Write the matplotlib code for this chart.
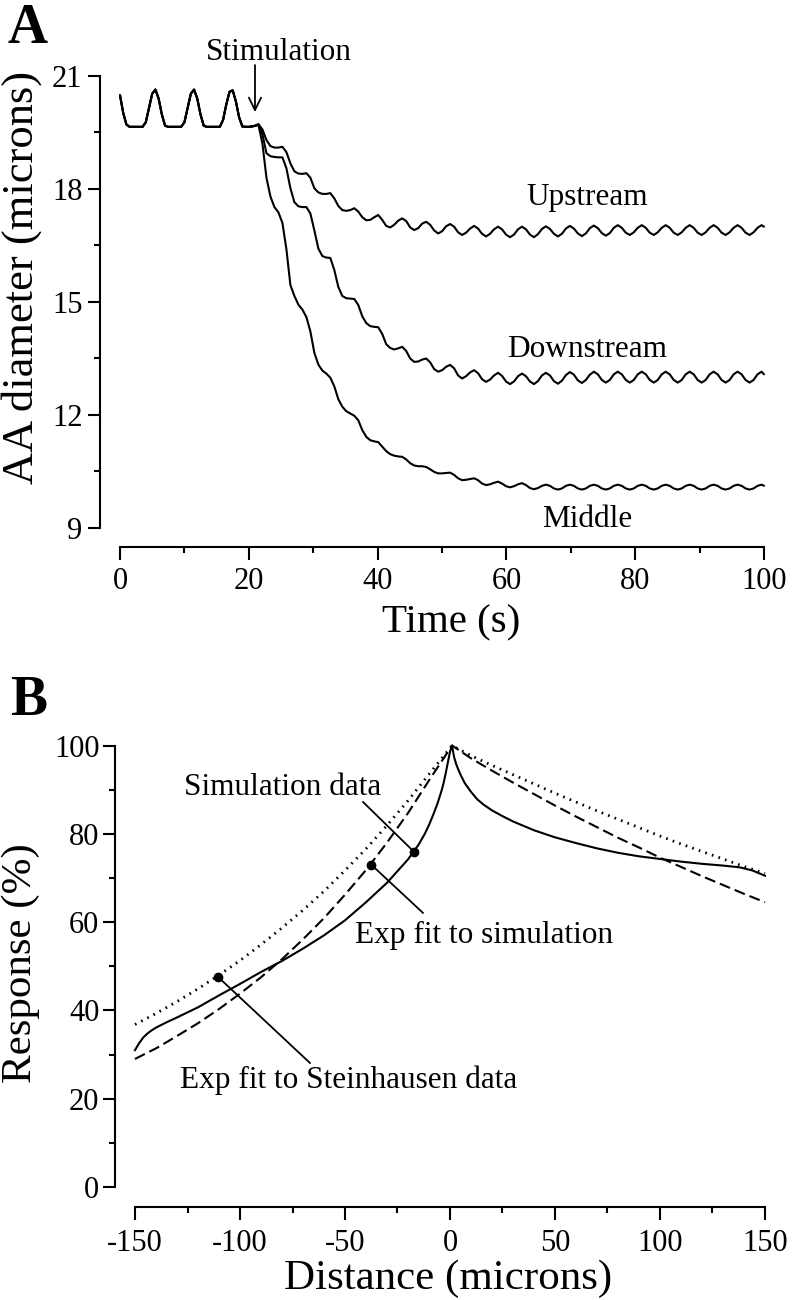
import matplotlib
matplotlib.use("Agg")
import matplotlib.pyplot as plt
from matplotlib.ticker import MultipleLocator

plt.rcParams['font.family'] = ['Liberation Serif', 'DejaVu Serif']
plt.rcParams['axes.unicode_minus'] = False

# ---------------- Panel A data ----------------
# shared pre-stimulation segment (s, microns)
pre_t = [0.0, 0.5, 1.0, 1.5, 2.0, 2.5, 3.0, 3.5, 4.0, 4.5, 5.0, 5.5, 6.0, 6.5, 7.0, 7.5,
         8.0, 8.5, 9.0, 9.5, 10.0, 10.5, 11.0, 11.5, 12.0, 12.5, 13.0, 13.5, 14.0, 14.5,
         15.0, 15.5, 16.0, 16.5, 17.0, 17.5, 18.0, 18.5, 19.0, 19.5, 20.0, 20.5, 21.0]
pre_v = [20.49, 20.02, 19.71, 19.65, 19.65, 19.65, 19.65, 19.65, 19.77, 20.15, 20.53, 20.64,
         20.40, 19.98, 19.68, 19.65, 19.65, 19.65, 19.65, 19.65, 19.77, 20.15, 20.53, 20.64,
         20.40, 19.98, 19.68, 19.65, 19.65, 19.65, 19.65, 19.65, 19.83, 20.24, 20.58, 20.62,
         20.32, 19.90, 19.66, 19.65, 19.65, 19.66, 19.68]

post_t = [21.50, 22.12, 22.74, 23.36, 23.98, 24.60, 25.22, 25.84, 26.46, 27.08, 27.70, 28.32,
          28.94, 29.56, 30.18, 30.80, 31.42, 32.04, 32.66, 33.28, 33.90, 34.52, 35.14, 35.76,
          36.38, 37.00, 37.62, 38.24, 38.86, 39.48, 40.10, 40.72, 41.34, 41.96, 42.58, 43.20,
          43.82, 44.44, 45.06, 45.68, 46.30, 46.92, 47.54, 48.16, 48.78, 49.40, 50.02, 50.64,
          51.26, 51.88, 52.50, 53.12, 53.74, 54.36, 54.98, 55.60, 56.22, 56.84, 57.46, 58.08,
          58.70, 59.32, 59.94, 60.56, 61.18, 61.80, 62.42, 63.04, 63.66, 64.28, 64.90, 65.52,
          66.14, 66.76, 67.38, 68.00, 68.62, 69.24, 69.86, 70.48, 71.10, 71.72, 72.34, 72.96,
          73.58, 74.20, 74.82, 75.44, 76.06, 76.68, 77.30, 77.92, 78.54, 79.16, 79.78, 80.40,
          81.02, 81.64, 82.26, 82.88, 83.50, 84.12, 84.74, 85.36, 85.98, 86.60, 87.22, 87.84,
          88.46, 89.08, 89.70, 90.32, 90.94, 91.56, 92.18, 92.80, 93.42, 94.04, 94.66, 95.28,
          95.90, 96.52, 97.14, 97.76, 98.38, 99.00, 99.62, 100.0]

upstream_v = [19.72, 19.58, 19.30, 19.14, 19.10, 19.10,
              19.12, 18.98, 18.68, 18.47, 18.41, 18.40,
              18.42, 18.30, 18.02, 17.91, 17.87, 17.87,
              17.89, 17.75, 17.55, 17.44, 17.42, 17.44,
              17.49, 17.40, 17.25, 17.17, 17.18, 17.25,
              17.31, 17.18, 17.02, 16.98, 17.05, 17.16,
              17.22, 17.15, 16.98, 16.91, 16.96, 17.08,
              17.13, 17.05, 16.90, 16.82, 16.88, 17.01,
              17.07, 17.00, 16.85, 16.78, 16.84, 16.95,
              17.02, 16.95, 16.81, 16.74, 16.81, 16.93,
              17.00, 16.93, 16.79, 16.72, 16.79, 16.93,
              17.00, 16.93, 16.79, 16.72, 16.80, 16.94,
              17.01, 16.94, 16.81, 16.74, 16.81, 16.95,
              17.02, 16.95, 16.82, 16.75, 16.82, 16.96,
              17.03, 16.96, 16.83, 16.76, 16.83, 16.97,
              17.04, 16.97, 16.84, 16.78, 16.85, 16.97,
              17.04, 16.97, 16.84, 16.78, 16.85, 16.97,
              17.04, 16.97, 16.84, 16.78, 16.85, 16.97,
              17.04, 16.97, 16.84, 16.78, 16.85, 16.97,
              17.04, 16.97, 16.84, 16.78, 16.85, 16.97,
              17.04, 16.97, 16.84, 16.78, 16.85, 16.97,
              17.04, 17.00]

downstream_v = [19.72, 19.45, 18.95, 18.87, 18.85, 18.84,
                18.84, 18.55, 18.02, 17.65, 17.54, 17.52,
                17.52, 17.35, 16.90, 16.42, 16.22, 16.18,
                16.17, 15.85, 15.40, 15.16, 15.10, 15.09,
                15.08, 14.92, 14.62, 14.44, 14.36, 14.34,
                14.33, 14.15, 13.88, 13.78, 13.74, 13.77,
                13.81, 13.70, 13.50, 13.41, 13.42, 13.47,
                13.50, 13.40, 13.22, 13.15, 13.19, 13.28,
                13.33, 13.24, 13.05, 12.97, 13.03, 13.13,
                13.19, 13.11, 12.95, 12.88, 12.94, 13.05,
                13.12, 13.04, 12.89, 12.82, 12.89, 13.03,
                13.10, 13.03, 12.89, 12.82, 12.90, 13.05,
                13.12, 13.05, 12.90, 12.83, 12.91, 13.06,
                13.14, 13.07, 12.92, 12.85, 12.93, 13.07,
                13.15, 13.08, 12.93, 12.86, 12.93, 13.08,
                13.15, 13.08, 12.93, 12.86, 12.93, 13.08,
                13.15, 13.08, 12.93, 12.86, 12.93, 13.08,
                13.15, 13.08, 12.93, 12.86, 12.93, 13.08,
                13.15, 13.08, 12.93, 12.86, 12.93, 13.08,
                13.15, 13.08, 12.93, 12.86, 12.93, 13.08,
                13.15, 13.08, 12.93, 12.86, 12.93, 13.08,
                13.15, 13.08]

middle_v = [19.70, 19.20, 18.30, 17.80, 17.52, 17.38,
            17.10, 16.40, 15.45, 15.16, 14.93, 14.80,
            14.60, 14.22, 13.65, 13.34, 13.18, 13.10,
            12.99, 12.76, 12.42, 12.22, 12.10, 12.04,
            11.98, 11.86, 11.60, 11.42, 11.33, 11.30,
            11.28, 11.16, 11.04, 10.96, 10.92, 10.90,
            10.89, 10.82, 10.72, 10.66, 10.64, 10.64,
            10.62, 10.56, 10.49, 10.45, 10.45, 10.46,
            10.47, 10.41, 10.32, 10.27, 10.28, 10.30,
            10.32, 10.27, 10.18, 10.14, 10.16, 10.20,
            10.23, 10.18, 10.11, 10.08, 10.11, 10.16,
            10.19, 10.14, 10.06, 10.03, 10.06, 10.12,
            10.15, 10.12, 10.05, 10.02, 10.05, 10.12,
            10.15, 10.12, 10.05, 10.02, 10.05, 10.12,
            10.15, 10.12, 10.05, 10.02, 10.05, 10.12,
            10.15, 10.12, 10.05, 10.02, 10.05, 10.12,
            10.15, 10.12, 10.05, 10.02, 10.05, 10.12,
            10.15, 10.12, 10.05, 10.02, 10.05, 10.12,
            10.15, 10.12, 10.05, 10.02, 10.05, 10.12,
            10.15, 10.12, 10.05, 10.02, 10.05, 10.12,
            10.15, 10.12, 10.05, 10.02, 10.05, 10.12,
            10.15, 10.12]

curve_labels_A = ["Upstream", "Downstream", "Middle"]
curve_label_t = [72.5, 72.5, 72.5]
curve_label_v = [17.57, 13.54, 9.03]
stim_t = 20.96
stim_arrow_v = [21.29, 20.04]
stim_text_t, stim_text_v = 24.7, 21.42

# ---------------- Panel B data ----------------
sim_x = [-150, -148, -146, -144, -142, -140, -135, -130, -120, -110, -100, -90, -80, -70,
         -60, -50, -40, -30, -20, -15, -12, -10, -8, -6, -4, -3, -2, -1, 0, 1,
         1.5, 2, 3, 4, 5, 7, 10, 13, 16, 20, 25, 30, 40, 50, 60, 70, 80, 90, 100, 110,
         120, 130, 138, 144, 150]
sim_y = [31.0, 32.6, 33.9, 34.8, 35.5, 36.1, 37.3, 38.4, 40.7, 43.4, 46.0, 48.7, 51.2, 54.0,
         57.0, 60.4, 64.5, 68.9, 74.2, 77.5, 80.0, 82.0, 84.3, 86.8, 89.8, 91.6, 93.8, 96.2,
         98.6, 100.0,
         98.5, 97.3, 95.7, 94.5, 93.4, 91.5, 89.5, 87.8, 86.6, 85.3, 84.0, 82.8, 80.8, 79.2,
         77.9, 76.7, 75.7, 74.9, 74.3, 73.7, 73.2, 72.8, 72.4, 71.7, 70.5]

fit_x = [-150, -140, -130, -120, -110, -100, -90, -80, -70, -60, -50, -40, -30, -20, -10,
         1, 10, 20, 30, 40, 50, 60, 70, 80, 90, 100, 110, 120, 130, 140, 150]
fit_sim_y = [29.0, 31.4, 34.2, 37.1, 40.3, 43.8, 47.5, 51.6, 56.1, 60.9, 66.2, 71.8, 78.0,
             84.7, 92.1, 100.0, 97.1, 94.3, 91.6, 89.0, 86.4, 83.9, 81.5, 79.1, 76.9, 74.6,
             72.5, 70.4, 68.4, 66.4, 64.5]
fit_stein_y = [36.8, 39.3, 42.0, 44.9, 48.0, 51.3, 54.9, 58.7, 62.7, 67.0, 71.7, 76.6, 81.9,
               87.5, 93.5, 100.0, 97.7, 95.5, 93.4, 91.3, 89.2, 87.2, 85.2, 83.3, 81.4, 79.5,
               77.7, 76.0, 74.3, 72.6, 71.0]

ann_labels_B = ["Simulation data", "Exp fit to simulation", "Exp fit to Steinhausen data"]
ann_dot_x = [-17.1, -37.5, -110.5]
ann_dot_y = [75.9, 73.0, 47.6]
ann_end_x = [-41.4, -12.9, -66.7]
ann_end_y = [87.2, 62.1, 28.1]
ann_text_x = [-79.8, 16.0, -48.1]
ann_text_y = [88.8, 55.3, 22.4]

# ---------------- Figure ----------------
W, H = 792, 1300
fig = plt.figure(figsize=(W / 100, H / 100), dpi=100)

TICK_FS = 22
ANN_FS = 22.5


def style_axes(ax, xpad, ypad, xoff, yoff):
    for s in ("top", "right"):
        ax.spines[s].set_visible(False)
    ax.spines["left"].set_position(("outward", yoff))
    ax.spines["bottom"].set_position(("outward", xoff))
    for s in ("left", "bottom"):
        ax.spines[s].set_linewidth(1.5)
    ax.tick_params(which="major", length=9, width=1.5, direction="out", labelsize=TICK_FS)
    ax.tick_params(which="minor", length=4.5, width=1.5, direction="out")
    ax.tick_params(axis="x", which="major", pad=xpad)
    ax.tick_params(axis="y", which="major", pad=ypad)


# Panel A
axA = fig.add_axes([120 / W, 1 - 528 / H, 644 / W, 452 / H])
axA.set_xlim(0, 100)
axA.set_ylim(9, 21)
style_axes(axA, 5.5, 3.6, 13.7, 14.4)
axA.spines["left"].set_bounds(9, 21)
axA.spines["bottom"].set_bounds(0, 100)
axA.xaxis.set_major_locator(MultipleLocator(20))
axA.xaxis.set_minor_locator(MultipleLocator(10))
axA.yaxis.set_major_locator(MultipleLocator(3))
axA.yaxis.set_minor_locator(MultipleLocator(1.5))

for vals in (upstream_v, downstream_v, middle_v):
    axA.plot(pre_t + post_t, pre_v + vals, color="black", lw=1.5, clip_on=False,
             solid_joinstyle="round", solid_capstyle="round")

for lab, t, v in zip(curve_labels_A, curve_label_t, curve_label_v):
    axA.text(t, v, lab, fontsize=ANN_FS, ha="center", va="baseline")

axA.text(stim_text_t, stim_text_v, "Stimulation", fontsize=ANN_FS, ha="center", va="baseline")
axA.annotate("", xy=(stim_t, stim_arrow_v[1]), xytext=(stim_t, stim_arrow_v[0]),
             annotation_clip=False,
             arrowprops=dict(arrowstyle="->,head_length=0.45,head_width=0.22",
                             lw=1.3, color="black", mutation_scale=20,
                             shrinkA=0, shrinkB=0))

axA.set_xlabel("Time (s)", fontsize=29.5)
axA.xaxis.set_label_coords(451 / W, 1 - 632 / H, transform=fig.transFigure)
axA.xaxis.label.set_va("baseline")
axA.set_ylabel("AA diameter (microns)", fontsize=32)
axA.yaxis.set_label_coords(22 / W, 1 - 277 / H, transform=fig.transFigure)
axA.yaxis.label.set_va("center")

# Panel B
axB = fig.add_axes([135 / W, 1 - 1187 / H, 630 / W, 441.5 / H])
axB.set_xlim(-150, 150)
axB.set_ylim(0, 100)
style_axes(axB, 6.5, 2.2, 14.4, 14.4)
axB.spines["left"].set_bounds(0, 100)
axB.spines["bottom"].set_bounds(-150, 150)
axB.xaxis.set_major_locator(MultipleLocator(50))
axB.xaxis.set_minor_locator(MultipleLocator(25))
axB.yaxis.set_major_locator(MultipleLocator(20))
axB.yaxis.set_minor_locator(MultipleLocator(10))

axB.plot(sim_x, sim_y, color="black", lw=1.5, clip_on=False,
         solid_joinstyle="round")
axB.plot(fit_x, fit_sim_y, color="black", lw=1.5, clip_on=False,
         linestyle=(0, (5.3, 2.4)))
axB.plot(fit_x, fit_stein_y, color="black", lw=2.0, clip_on=False,
         linestyle=(0, (0.6, 1.9)), dash_capstyle="butt")

for lab, dx, dy, ex, ey, tx, ty in zip(ann_labels_B, ann_dot_x, ann_dot_y, ann_end_x,
                                       ann_end_y, ann_text_x, ann_text_y):
    axB.plot([dx, ex], [dy, ey], color="black", lw=1.3)
    axB.plot([dx], [dy], "o", color="black", markersize=6)
    axB.text(tx, ty, lab, fontsize=ANN_FS, ha="center", va="baseline")

axB.set_xlabel("Distance (microns)", fontsize=31)
axB.xaxis.set_label_coords(448.5 / W, 1 - 1289 / H, transform=fig.transFigure)
axB.xaxis.label.set_va("baseline")
axB.set_ylabel("Response (%)", fontsize=31)
axB.yaxis.set_label_coords(21 / W, 1 - 963 / H, transform=fig.transFigure)
axB.yaxis.label.set_va("center")

# Panel letters
fig.text(7 / W, 1 - 43 / H, "A", fontsize=40, fontweight="bold", ha="left", va="baseline")
fig.text(10 / W, 1 - 715 / H, "B", fontsize=40, fontweight="bold", ha="left", va="baseline")

fig.savefig("out.png", dpi=100)
